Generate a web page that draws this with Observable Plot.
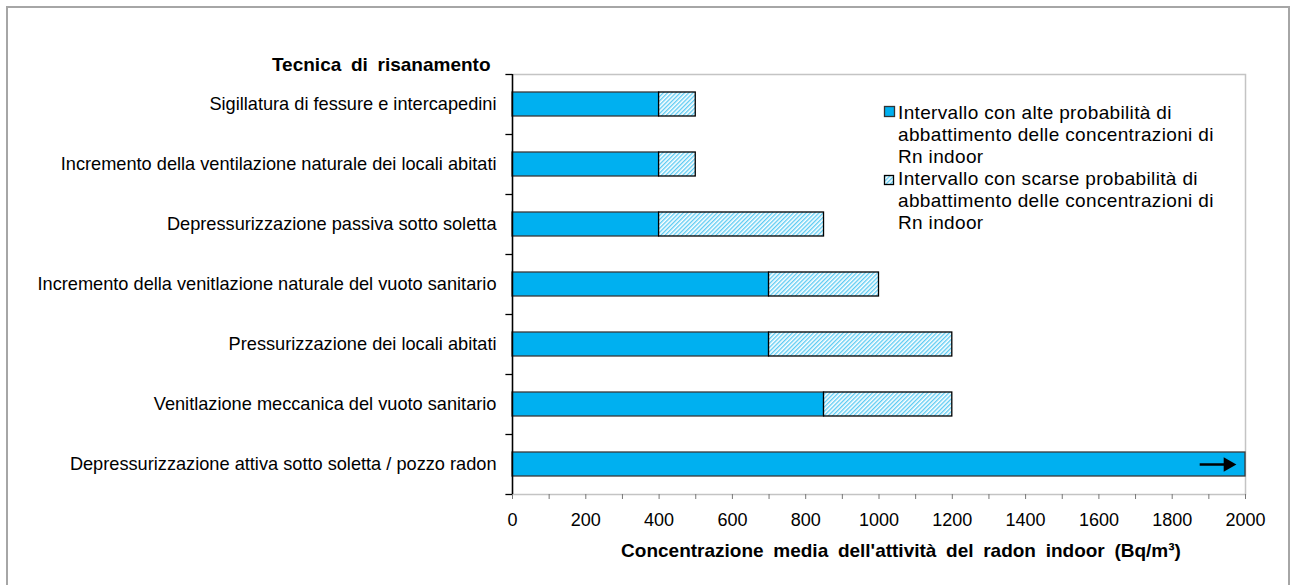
<!DOCTYPE html>
<html><head><meta charset="utf-8">
<script src="https://cdn.jsdelivr.net/npm/d3@7"></script>
<script src="https://cdn.jsdelivr.net/npm/@observablehq/plot@0.6"></script>
<style>
body{margin:0;background:#fff;overflow:hidden;}
#wrap{position:relative;width:1291px;height:585px;}
#frame{position:absolute;left:6px;top:6px;width:1280px;height:700px;border:2px solid #a6a6a6;pointer-events:none;}
</style></head><body><div id="wrap"><div id="frame"></div></div>
<script>
const categories = [
  "Sigillatura di fessure e intercapedini",
  "Incremento della ventilazione naturale dei locali abitati",
  "Depressurizzazione passiva sotto soletta",
  "Incremento della venitlazione naturale del vuoto sanitario",
  "Pressurizzazione dei locali abitati",
  "Venitlazione meccanica del vuoto sanitario",
  "Depressurizzazione attiva sotto soletta / pozzo radon"
];
const highEnd = [400, 400, 400, 700, 700, 850, 2000];
const lowEnd = [500, 500, 850, 1000, 1200, 1200, null];
const xTicksMajor = [0, 200, 400, 600, 800, 1000, 1200, 1400, 1600, 1800, 2000];
const xTicksMinor = [0, 100, 200, 300, 400, 500, 600, 700, 800, 900, 1000, 1100, 1200, 1300, 1400, 1500, 1600, 1700, 1800, 1900, 2000];
const legendHigh = ["Intervallo con alte probabilità di", "abbattimento delle concentrazioni di", "Rn indoor"];
const legendLow = ["Intervallo con scarse probabilità di", "abbattimento delle concentrazioni di", "Rn indoor"];
const yTitle = "Tecnica di risanamento";
const xTitle = "Concentrazione media dell'attività del radon indoor (Bq/m³)";
const arrowStart = 1875, arrowEnd = 1945, arrowHead = 1952;

const rows = categories.map((c, i) => ({cat: c, high: highEnd[i], low: lowEnd[i]}));
const hatched = rows.filter(d => d.low != null);
const arrowRow = [categories[categories.length - 1]];

const chart = Plot.plot({
  width: 1291, height: 585,
  marginLeft: 512, marginRight: 46, marginTop: 74, marginBottom: 91,
  style: {fontFamily: "'Liberation Sans', Arial, sans-serif", fontSize: "18px", color: "#000", background: "transparent", overflow: "visible"},
  x: {domain: [0, 2000], axis: null},
  y: {domain: categories, paddingInner: 0.6, paddingOuter: 0.3, axis: null},
  marks: [
    Plot.frame({stroke: "#c4c4c4", strokeWidth: 1.5}),
    Plot.barX(rows, {x1: () => 0, x2: "high", y: "cat", fill: "#00B0F0", stroke: "#3a3a3a", strokeWidth: 1.3}),
    Plot.barX(hatched, {x1: "high", x2: "low", y: "cat", fill: "url(#hatch)", stroke: "#000", strokeWidth: 1.3}),
    Plot.axisX({ticks: xTicksMinor, tickSize: 5, tickFormat: () => "", stroke: "#777", label: null}),
    Plot.axisX({ticks: xTicksMajor, tickSize: 0, tickPadding: 19, fontSize: 18, label: null, tickFormat: d => String(d)}),
    Plot.axisY({tickSize: 0, tickPadding: 16, fontSize: 18.2, label: null}),
    Plot.ruleY(categories, {x1: -18, x2: 0, dy: -30, stroke: "#000", strokeWidth: 1.3}),
    Plot.ruleY(arrowRow, {x1: -18, x2: 0, dy: 30, stroke: "#000", strokeWidth: 1.3}),
    Plot.ruleX([0], {stroke: "#000", strokeWidth: 1.5}),
    Plot.link(arrowRow, {x1: arrowStart, x2: arrowEnd, y1: d => d, y2: d => d, stroke: "#000", strokeWidth: 2.5}),
    Plot.dot(arrowRow, {x: arrowHead, y: d => d, symbol: "triangle2", rotate: 90, r: 7, fill: "#000"}),
    Plot.text([yTitle], {frameAnchor: "top-left", textAnchor: "end", dx: -22, dy: -17, fontWeight: "bold", fontSize: 19}),
    Plot.text([xTitle], {frameAnchor: "bottom", dx: 22, dy: 62, fontWeight: "bold", fontSize: 19})
  ]
});

const svg = d3.select(chart);
svg.selectAll("text").filter(function() { return this.textContent === yTitle || this.textContent === xTitle; })
  .style("word-spacing", "4.4px");
const defs = svg.insert("defs", ":first-child");
const pat = defs.append("pattern").attr("id", "hatch").attr("patternUnits", "userSpaceOnUse")
  .attr("width", 3).attr("height", 3).attr("patternTransform", "rotate(45)");
pat.append("rect").attr("width", 3).attr("height", 3).attr("fill", "#fff");
pat.append("line").attr("x1", 0.7).attr("y1", 0).attr("x2", 0.7).attr("y2", 3)
  .attr("stroke", "#55c9f3").attr("stroke-width", 1.3);

const lg = svg.append("g").attr("font-family", "'Liberation Sans', Arial, sans-serif").attr("font-size", 19)
  .attr("fill", "#000").attr("text-anchor", "start").style("letter-spacing", "0.35px");
lg.append("rect").attr("x", 884.5).attr("y", 106.5).attr("width", 10).attr("height", 10).attr("fill", "#00B0F0").attr("stroke", "#333").attr("stroke-width", 1.3);
lg.append("rect").attr("x", 884.5).attr("y", 175.5).attr("width", 9).attr("height", 9).attr("fill", "url(#hatch)").attr("stroke", "#000").attr("stroke-width", 1.3);
legendHigh.forEach((t, i) => lg.append("text").attr("x", 898).attr("y", 119 + i * 22).text(t));
legendLow.forEach((t, i) => lg.append("text").attr("x", 898).attr("y", 185 + i * 22).text(t));

document.getElementById("wrap").appendChild(chart);
</script></body></html>
